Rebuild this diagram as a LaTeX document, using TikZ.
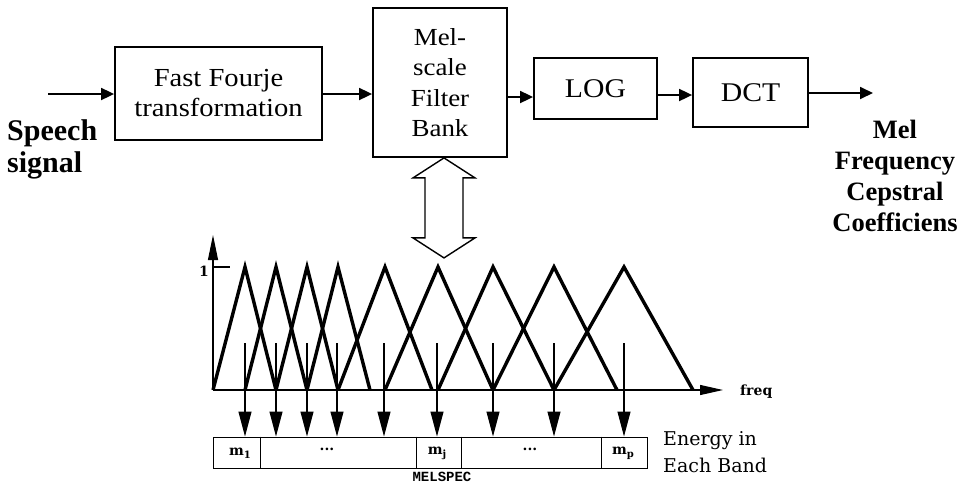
\documentclass[tikz,border=0pt]{standalone}
\usepackage{fontspec}
\setmainfont{Liberation Serif}
\newfontfamily\stagefont[FakeStretch=1.1]{Liberation Serif}
\newfontfamily\plotfont{DejaVu Serif}
\newfontfamily\codefont{Liberation Mono}
\usetikzlibrary{arrows.meta}
\begin{document}
\begin{tikzpicture}[x=1pt,y=-1pt,
  stage/.style={draw,line width=1.8pt,rectangle,inner sep=0pt,align=center},
  flow/.style={line width=1.8pt,-{Triangle[length=13pt,width=12pt]}},
  axis/.style={line width=1.1pt},
  band/.style={line width=3.4pt,line join=miter},
  tickarrow/.style={line width=1.1pt,-{Triangle[length=25pt,width=13pt]}},
  boldlabel/.style={font=\bfseries\fontsize{30}{32}\selectfont,align=left,inner sep=0pt},
  plotlabel/.style={font=\plotfont\fontsize{14}{16}\selectfont,inner sep=0pt},
  cellmark/.style={font=\plotfont\bfseries\fontsize{14}{16}\selectfont,inner sep=0pt}]
\useasboundingbox (0,0) rectangle (972,496);

% processing chain
\node[stage,minimum width=207pt,minimum height=93pt,
      font=\stagefont\fontsize{26}{30}\selectfont] (fft) at (218.5,93.5)
      {Fast Fourje\\transformation};
\node[stage,minimum width=134pt,minimum height=149pt,
      font=\stagefont\fontsize{24.5}{30.5}\selectfont] (mel) at (440,82.5)
      {Mel-\\scale\\Filter\\Bank};
\node[stage,minimum width=123pt,minimum height=61pt,
      font=\stagefont\fontsize{27}{30}\selectfont] (log) at (595.5,88.5) {LOG};
\node[stage,minimum width=115pt,minimum height=69pt,
      font=\stagefont\fontsize{27}{30}\selectfont] (dct) at (750.5,92.5) {DCT};

\coordinate (in) at (48,94);
\coordinate (out) at (873,93);
\draw[flow] (in) -- (in -| fft.west);
\draw[flow] ([yshift=-0.5pt]fft.east) -- ([yshift=-0.5pt]fft.east -| mel.west);
\draw[flow] ([yshift=-14.5pt]mel.east) -- ([yshift=-14.5pt]mel.east -| log.west);
\draw[flow] ([yshift=-6.5pt]log.east) -- ([yshift=-6.5pt]log.east -| dct.west);
\draw[flow] (out -| dct.east) -- (out);

\node[boldlabel,anchor=west] (speech) at (7,149) {Speech\\signal};
\node[boldlabel,align=center,font=\bfseries\fontsize{26.5}{31}\selectfont]
      (mfcc) at (895,176) {Mel\\Frequency\\Cepstral\\Coefficiens};

% two-way link between filter bank and its frequency responses
\coordinate (dtop) at ([xshift=4pt]mel.south);
\draw[line width=1.4pt,fill=white] (dtop) -- ++(31,20) -- ++(-12,0) -- ++(0,60)
  -- ++(12,0) -- ++(-31,20) -- ++(-31,-20) -- ++(12,0) -- ++(0,-60)
  -- ++(-12,0) -- cycle;

% axes of the triangular filters
\coordinate (origin) at (213,390);
\coordinate (ytip) at (213,235);
\coordinate (xtip) at (723,390);
\draw[axis,-{Triangle[length=25pt,width=10pt]}] (origin) -- (ytip);
\draw[axis,-{Triangle[length=23pt,width=10pt]}] (origin) -- (xtip);
\draw[axis] (213,267) -- (230,267);
\node[cellmark] (one) at (204,271) {1};
\node[cellmark,anchor=west] (freq) at (740,392) {freq};

% triangular mel filters: left foot, peak, right foot
\foreach \l/\p/\r in {213/245/276, 245/276/307, 276/307/338, 307/338/370,
                      338/385/432, 385/438/493, 438/493/554, 493/554/617,
                      554/624/693}
  \draw[band] (\l,390) -- (\p,267) -- (\r,390);

% energy bar
\node[draw,line width=1pt,minimum width=434pt,minimum height=31pt,inner sep=0pt]
      (bar) at (430,452.5) {};
\foreach \x in {260,416,461,601}
  \draw[line width=1pt] (bar.north -| \x,0) -- (bar.south -| \x,0);

\foreach \x in {245,276,307,337,384,437,493,554,624}
  \draw[tickarrow] (\x,343) -- (bar.north -| \x,0);

\node[cellmark] (m1) at (240,453) {m\raisebox{-3pt}{\fontsize{10}{10}\selectfont 1}};
\node[cellmark] (dots1) at (327,449) {...};
\node[cellmark] (mj) at (437,453) {m\raisebox{-3pt}{\fontsize{10}{10}\selectfont j}};
\node[cellmark] (dots2) at (530,449) {...};
\node[cellmark] (mp) at (623,453) {m\raisebox{-3pt}{\fontsize{10}{10}\selectfont p}};

\node[plotlabel,anchor=west,align=left,font=\plotfont\fontsize{19}{27}\selectfont]
      (energy) at (663,452) {Energy in\\Each Band};
\node[inner sep=0pt,font=\codefont\bfseries\fontsize{14}{16}\selectfont]
      (melspec) at (442,477) {MELSPEC};
\end{tikzpicture}
\end{document}
